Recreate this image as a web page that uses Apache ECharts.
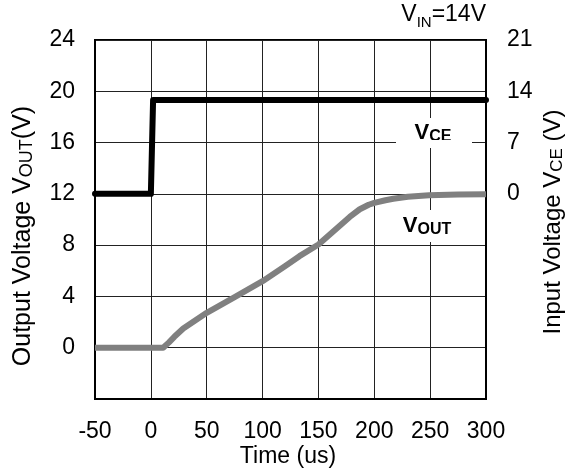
<!DOCTYPE html>
<html><head><meta charset="utf-8">
<script src="https://cdn.jsdelivr.net/npm/echarts@6/dist/echarts.min.js"></script>
<style>html,body{margin:0;padding:0;background:#fff}#c{width:576px;height:473px}</style>
</head><body><div id="c"></div>
<script>
const xTicks = [-50, 0, 50, 100, 150, 200, 250, 300];
const leftTicks = [0, 4, 8, 12, 16, 20, 24];
const rightTicks = [0, 7, 14, 21];
const vceTime = [-50, 0, 2, 300];
const vceValue = [0, 0, 12.8, 12.8];
const voutTime = [-50, 11, 16, 21, 29, 40, 50, 75, 100, 120, 133, 150, 163, 178, 187, 195, 200, 210, 217, 230, 249, 275, 300];
const voutValue = [0, 0, 0.4, 0.85, 1.5, 2.15, 2.72, 3.95, 5.19, 6.35, 7.14, 8.05, 9.05, 10.2, 10.8, 11.15, 11.3, 11.5, 11.62, 11.78, 11.9, 11.95, 11.97];

const FONT = "'Liberation Sans', Arial, sans-serif";
const FS = 23;
const chart = echarts.init(document.getElementById('c'), null, {renderer: 'canvas'});
const pair = (xs, ys) => xs.map((x, i) => [x, ys[i]]);

chart.setOption({
  animation: false,
  backgroundColor: '#fff',
  grid: {left: 95, right: 90, top: 40, bottom: 74, show: true, borderColor: '#000', borderWidth: 2, backgroundColor: 'transparent'},
  xAxis: {
    type: 'value', min: -50, max: 300, interval: 50,
    axisLine: {show: true, onZero: false, lineStyle: {color: '#000', width: 2}},
    axisTick: {show: false},
    splitLine: {show: true, lineStyle: {color: '#222', width: 1}},
    axisLabel: {color: '#000', fontFamily: FONT, fontSize: FS, margin: 21,
      formatter: v => xTicks.includes(v) ? String(v) : ''}
  },
  yAxis: [{
    type: 'value', min: -4, max: 24, interval: 4,
    axisLine: {show: true, onZero: false, lineStyle: {color: '#000', width: 2}},
    axisTick: {show: false},
    splitLine: {show: true, lineStyle: {color: '#222', width: 1}},
    axisLabel: {color: '#000', fontFamily: FONT, fontSize: FS, margin: 20,
      formatter: v => leftTicks.includes(v) ? String(v) : ''}
  }, {
    type: 'value', min: -28, max: 21, interval: 7, position: 'right',
    axisLine: {show: true, onZero: false, lineStyle: {color: '#000', width: 2}},
    axisTick: {show: false},
    splitLine: {show: false},
    axisLabel: {color: '#000', fontFamily: FONT, fontSize: FS, margin: 21,
      formatter: v => rightTicks.includes(v) ? String(v) : ''}
  }],
  series: [{
    type: 'line', yAxisIndex: 1, data: pair(vceTime, vceValue), showSymbol: false,
    lineStyle: {color: '#000', width: 6, cap: 'round', join: 'round'}, z: 3
  }, {
    type: 'line', yAxisIndex: 0, data: pair(voutTime, voutValue), showSymbol: false,
    lineStyle: {color: '#808080', width: 6, join: 'round'}, z: 3
  }],
  graphic: [
    {type: 'text', left: 'center', top: 445, z: 10, style: {text: 'Time (us)', font: `${FS}px ${FONT}`, fill: '#000'}},
    {type: 'text', right: 90, top: 3, z: 10, style: {
      text: '{a|V}{b|IN}{a|=14V}', fill: '#000',
      rich: {a: {fontFamily: FONT, fontSize: FS, verticalAlign: 'bottom'}, b: {fontFamily: FONT, fontSize: 15, verticalAlign: 'bottom', padding: [0,0,-4,0]}}}},
    {type: 'text', x: 23, y: 236, rotation: Math.PI / 2, z: 10, style: {
      text: '{a|Output Voltage V}{b|OUT}{a|(V)}', align: 'center', verticalAlign: 'middle', fill: '#000',
      rich: {a: {fontFamily: FONT, fontSize: 25}, b: {fontFamily: FONT, fontSize: 18, padding: [8,0,0,0]}}}},
    {type: 'text', x: 553, y: 222, rotation: Math.PI / 2, z: 10, style: {
      text: '{a|Input Voltage V}{b|CE}{a| (V)}', align: 'center', verticalAlign: 'middle', fill: '#000',
      rich: {a: {fontFamily: FONT, fontSize: 24}, b: {fontFamily: FONT, fontSize: 17, padding: [8,0,0,0]}}}},
    {type: 'text', x: 433, y: 133, z: 10, style: {
      text: '{a|V}{b|CE}', align: 'center', verticalAlign: 'middle', fill: '#000',
      backgroundColor: '#fff', padding: [3, 12, 3, 12],
      rich: {a: {fontFamily: FONT, fontSize: 22, fontWeight: 'bold'}, b: {fontFamily: FONT, fontSize: 16, fontWeight: 'bold', padding: [8,0,0,0]}}}},
    {type: 'rect', shape: {x: 396, y: 140, width: 76, height: 5}, style: {fill: '#fff'}, z: 11},
    {type: 'text', x: 427, y: 226, z: 10, style: {
      text: '{a|V}{b|OUT}', align: 'center', verticalAlign: 'middle', fill: '#000',
      backgroundColor: '#fff', padding: [4, 4, 4, 4],
      rich: {a: {fontFamily: FONT, fontSize: 22, fontWeight: 'bold'}, b: {fontFamily: FONT, fontSize: 16, fontWeight: 'bold', padding: [8,0,0,0]}}}}
  ]
});
</script></body></html>
